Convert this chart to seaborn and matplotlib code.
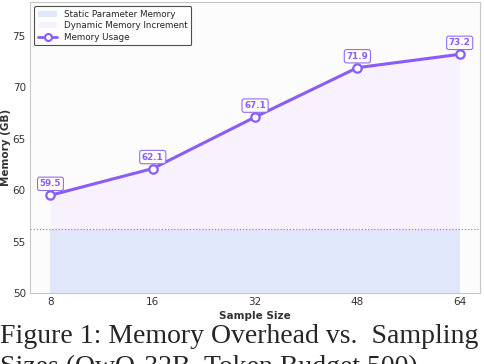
import matplotlib.pyplot as plt
import seaborn as sns
import numpy as np
from matplotlib.patches import Patch
from matplotlib.lines import Line2D

sample_sizes = ["8", "16", "32", "48", "64"]
memory_gb = [59.5, 62.1, 67.1, 71.9, 73.2]
static_memory = 56.2

violet = "#8b5cf6"

sns.set_style("whitegrid")
plt.rcParams["font.family"] = ["DejaVu Sans"]

fig = plt.figure(figsize=(4.84, 3.64), dpi=100)
ax = fig.add_axes([0.062, 0.195, 0.93, 0.80])
ax.set_facecolor("#fcfcfd")
ax.set_axisbelow(True)
ax.grid(False)

x = np.arange(len(sample_sizes))
ax.fill_between(x, 50, static_memory, color="#e1e7fb", lw=0, zorder=1)
ax.fill_between(x, static_memory, memory_gb, color="#f7f2fe", lw=0, zorder=1)
ax.axhline(static_memory, color=violet, ls=(0, (1, 1.5)), lw=0.9, alpha=0.8, zorder=2)

sns.lineplot(x=x, y=memory_gb, ax=ax, color=violet, lw=2.2, marker="o",
             markersize=6, markerfacecolor="white", markeredgecolor=violet,
             markeredgewidth=1.6, zorder=3)

for xi, v in zip(x, memory_gb):
    ax.annotate(f"{v:.1f}", (xi, v), xytext=(0, 5), textcoords="offset points",
                ha="center", va="bottom", fontsize=6.3, fontweight="bold", color=violet,
                bbox=dict(boxstyle="round,pad=0.25", fc="white", ec=violet, lw=0.8, alpha=0.9),
                zorder=4)

ax.set_xlim(-0.2, 4.2)
ax.set_ylim(50, 78.3)
ax.set_xticks(x)
ax.set_xticklabels(sample_sizes)
ax.set_yticks([50, 55, 60, 65, 70, 75])
ax.tick_params(labelsize=7.5, colors="#333333", length=0, pad=3)
for s in ax.spines.values():
    s.set_color("#c8c8c8")
    s.set_linewidth(0.8)

ax.set_xlabel("Sample Size", fontsize=7.5, fontweight="bold", color="#333333", labelpad=3)
ax.set_ylabel("Memory (GB)", fontsize=7.5, fontweight="bold", color="#333333", labelpad=1)

handles = [
    Patch(facecolor="#e1e7fb", edgecolor="none", label="Static Parameter Memory"),
    Patch(facecolor="#f7f2fe", edgecolor="none", label="Dynamic Memory Increment"),
    Line2D([], [], color=violet, lw=2, marker="o", markersize=5, markerfacecolor="white",
           markeredgecolor=violet, markeredgewidth=1.5, label="Memory Usage"),
]
leg = ax.legend(handles=handles, loc="upper left", fontsize=6.3, frameon=True,
                fancybox=True, framealpha=0.95, borderpad=0.4, handlelength=2.2,
                labelspacing=0.3, bbox_to_anchor=(0.0, 1.0))
leg.get_frame().set_edgecolor("#444444")
leg.get_frame().set_linewidth(0.8)

fig.text(0.0, 0.075, "Figure 1: Memory Overhead vs.  Sampling", fontsize=20,
         family=["Liberation Serif", "DejaVu Serif"], ha="left", va="center")
fig.text(0.0, 0.025, "Sizes (QwQ-32B, Token Budget 500)", fontsize=20,
         family=["Liberation Serif", "DejaVu Serif"], ha="left", va="top")

fig.savefig("out.png", dpi=100)
